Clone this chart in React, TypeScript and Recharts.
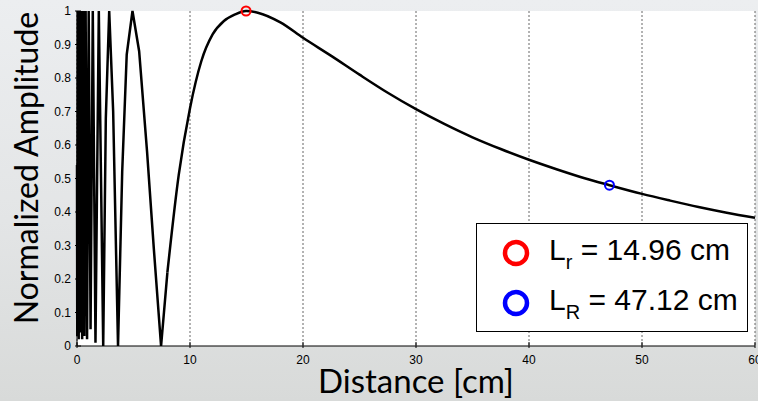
import React from "react";
import {
  ComposedChart,
  Line,
  XAxis,
  YAxis,
  CartesianGrid,
  ReferenceDot,
} from "recharts";

// near field: distance [cm] and normalized amplitude
const NEAR_DIST = [
  0, 0.022, 0.084, 0.15, 0.219, 0.293, 0.372, 0.457, 0.55, 0.65, 0.764, 0.89,
  1.034, 1.2, 1.397, 1.635, 1.93, 2.32, 2.55, 2.85, 3.2, 3.63, 4.0, 4.4, 4.91,
  5.5, 6.2, 6.8, 7.44, 8,
];
const NEAR_AMP = [
  0.54, 0.03, 1, 0.02, 1, 0.04, 1, 0.02, 1, 0.03, 1, 0.02, 1, 0.05, 1, 0.01, 1,
  0, 0.68, 1, 0.7, 0, 0.52, 0.87, 1, 0.88, 0.58, 0.29, 0, 0.22,
];

// far field (smooth decay after the last minimum)
const FAR_DIST = [
  8, 9, 10, 11, 12, 13, 14, 14.96, 16, 18, 20, 22.5, 25, 27.5, 30, 32.5, 35,
  37.5, 40, 42.5, 45, 47.12, 50, 52.5, 55, 57.5, 60,
];
const FAR_AMP = [
  0.22, 0.51, 0.71, 0.85, 0.93, 0.97, 0.99, 1, 0.995, 0.966, 0.92, 0.866, 0.81,
  0.756, 0.707, 0.663, 0.623, 0.588, 0.556, 0.527, 0.5, 0.48, 0.454, 0.434,
  0.415, 0.398, 0.383,
];

const X_TICKS = [0, 10, 20, 30, 40, 50, 60];
const Y_TICKS = [0, 0.1, 0.2, 0.3, 0.4, 0.5, 0.6, 0.7, 0.8, 0.9, 1];

const LR_SMALL = { x: 14.96, y: 1, label: "14.96" };
const LR_BIG = { x: 47.12, y: 0.48, label: "47.12" };

const data = [
  ...NEAR_DIST.map((x, i) => ({ x, near: NEAR_AMP[i] })),
  ...FAR_DIST.map((x, i) => ({ x, far: FAR_AMP[i] })),
];

const tickFont = "'Liberation Sans', Arial, sans-serif";
const titleFont = "Lato, 'Open Sans', sans-serif";

const fmtY = (v: number) => (v === 0 || v === 1 ? String(v) : v.toFixed(1));

function BottomTick(p: any) {
  return (
    <g>
      <line x1={p.x} x2={p.x} y1={p.y} y2={p.y - 6} stroke="#000" />
      <text
        x={p.x}
        y={p.y + 16}
        textAnchor="middle"
        fontSize={12}
        fontFamily={tickFont}
        fill="#000"
      >
        {p.payload.value}
      </text>
    </g>
  );
}

function LeftTick(p: any) {
  return (
    <g>
      <line x1={p.x} x2={p.x + 6} y1={p.y} y2={p.y} stroke="#000" />
      <text
        x={p.x - 4}
        y={p.y + 4}
        textAnchor="end"
        fontSize={12}
        fontFamily={tickFont}
        fill="#000"
      >
        {fmtY(p.payload.value)}
      </text>
    </g>
  );
}

function RightTick(p: any) {
  return <line x1={p.x} x2={p.x - 6} y1={p.y} y2={p.y} stroke="#000" />;
}

function LegendBox() {
  const row = (color: string, sub: string, val: string) => (
    <div style={{ display: "flex", alignItems: "center", height: 50 }}>
      <svg width={30} height={30} style={{ marginLeft: 24, marginRight: 18 }}>
        <circle cx={15} cy={15} r={11} fill="none" stroke={color} strokeWidth={4.5} />
      </svg>
      <span style={{ fontFamily: tickFont, fontSize: 30, color: "#000" }}>
        L<sub style={{ fontSize: 20, verticalAlign: "-9px" }}>{sub}</sub> = {val} cm
      </span>
    </div>
  );
  return (
    <div
      style={{
        position: "absolute",
        left: 476,
        top: 223,
        width: 272,
        height: 109,
        boxSizing: "border-box",
        border: "1.5px solid #000",
        background: "#fff",
        paddingTop: 4,
      }}
    >
      {row("#ff0000", "r", LR_SMALL.label)}
      {row("#0000ff", "R", LR_BIG.label)}
    </div>
  );
}

export default function App() {
  return (
    <div
      style={{
        position: "absolute",
        left: 0,
        top: 0,
        width: 758,
        height: 401,
        background: "linear-gradient(to bottom, #eceef0 0%, #e3e5e6 55%, #d8dad9 100%)",
        overflow: "hidden",
      }}
    >
      <ComposedChart
        width={758}
        height={401}
        data={data}
        margin={{ top: 11, right: 3, bottom: 0, left: 0 }}
      >
        <CartesianGrid
          horizontal={false}
          fill="#fff"
          stroke="#666"
          strokeDasharray="2 2"
        />
        <XAxis
          dataKey="x"
          type="number"
          domain={[0, 60]}
          ticks={X_TICKS}
          interval={0}
          height={55}
          tickSize={0}
          tickLine={false}
          axisLine={{ stroke: "#000" }}
          tick={<BottomTick />}
          label={(props: any) => {
            const vb = props.viewBox;
            return (
              <text
                x={vb.x + vb.width / 2}
                y={vb.y + 47}
                textAnchor="middle"
                fontSize={33}
                fontFamily={titleFont}
                fill="#000"
              >
                Distance [cm]
              </text>
            );
          }}
        />
        <XAxis
          xAxisId="top"
          orientation="top"
          type="number"
          domain={[0, 60]}
          height={0}
          tick={false}
          tickLine={false}
          axisLine={{ stroke: "#000" }}
        />
        <YAxis
          type="number"
          domain={[0, 1]}
          ticks={Y_TICKS}
          interval={0}
          width={77}
          tickSize={0}
          tickLine={false}
          axisLine={{ stroke: "#000" }}
          tick={<LeftTick />}
          label={(props: any) => {
            const vb = props.viewBox;
            return (
              <text
                x={30}
                y={vb.y + 157}
                transform={`rotate(-90 30 ${vb.y + 157})`}
                textAnchor="middle"
                dominantBaseline="middle"
                fontSize={32}
                fontFamily={titleFont}
                fill="#000"
              >
                Normalized Amplitude
              </text>
            );
          }}
        />
        <YAxis
          yAxisId="right"
          orientation="right"
          type="number"
          domain={[0, 1]}
          ticks={Y_TICKS}
          interval={0}
          width={0}
          tickSize={0}
          tickLine={false}
          axisLine={{ stroke: "#000" }}
          tick={<RightTick />}
        />
        <Line
          type="linear"
          dataKey="near"
          stroke="#000"
          strokeWidth={2.5}
          dot={false}
          isAnimationActive={false}
        />
        <Line
          type="monotone"
          dataKey="far"
          stroke="#000"
          strokeWidth={2.5}
          dot={false}
          isAnimationActive={false}
        />
        <ReferenceDot
          x={LR_SMALL.x}
          y={LR_SMALL.y}
          r={4.5}
          fill="none"
          stroke="#ff0000"
          strokeWidth={2}
          ifOverflow="visible"
        />
        <ReferenceDot
          x={LR_BIG.x}
          y={LR_BIG.y}
          r={4.5}
          fill="none"
          stroke="#0000ff"
          strokeWidth={2}
          ifOverflow="visible"
        />
      </ComposedChart>
      <LegendBox />
    </div>
  );
}
